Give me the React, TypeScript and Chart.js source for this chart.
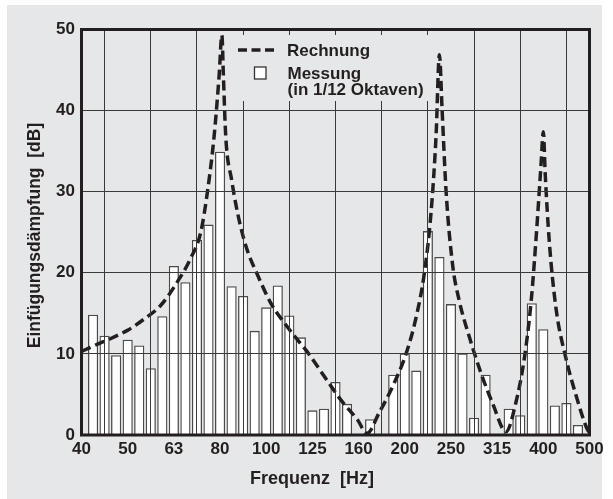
import { useEffect, useRef } from "react";
import { Chart, registerables } from "chart.js";
import type { Plugin } from "chart.js";

Chart.register(...registerables);

// x axis is counted in 1/12-octave steps from 40 Hz (step 0) to 500 Hz (step 44)
const xTickLabels = ["40", "50", "63", "80", "100", "125", "160", "200", "250", "315", "400", "500"];

// Messung (1/12 octave bands), step index and insertion loss in dB
const barSteps = [
  1, 2, 3, 4, 5, 6, 7, 8, 9, 10, 11, 12, 13, 14, 15, 16, 17, 18, 19, 20, 21, 22, 23,
  25, 27, 28, 29, 30, 31, 32, 33, 34, 35, 37, 38, 39, 40, 41, 42, 43,
];
const barValues = [
  14.8, 12.2, 9.8, 11.7, 11.0, 8.2, 14.6, 20.8, 18.8, 24.0, 25.9, 34.9, 18.3, 17.1, 12.8, 15.7, 18.4, 14.7, 12.0, 3.0, 3.2, 6.5, 3.8,
  1.9, 7.4, 10.0, 7.9, 25.1, 21.9, 16.1, 10.0, 2.1, 7.4, 3.2, 2.4, 16.2, 13.0, 3.6, 3.9, 1.2,
];

// Rechnung
const curveSteps = [
  0, 1.39, 2.54, 3.98, 5.43, 6.87, 8.31, 9.46, 10.33, 10.91, 11.49, 11.92, 12.16,
  12.29, 12.49, 13.01, 13.53, 14.26, 15.26, 16.42, 17.58, 18.73, 19.74, 21.04, 22.48, 23.92, 24.72,
  25.8, 26.95, 28.11, 28.98, 29.7, 30.28, 30.71, 31.0,
  31.23, 31.58, 32.15, 32.71, 33.59, 34.61, 35.61, 36.77,
  37.64, 38.35, 38.94, 39.37, 39.8, 40.0,
  40.17, 40.52, 41.1, 41.97, 42.83, 43.84, 44,
];
const curveValues = [
  10.3, 11.2, 11.9, 12.9, 14.3, 16.0, 18.9, 21.8, 25.0, 30.0, 36.9, 44.3, 49.3,
  44.3, 36.9, 31.4, 27.3, 23.2, 19.7, 16.2, 13.8, 11.7, 9.9, 7.2, 4.3, 1.85, 0.2,
  2.8, 6.0, 10.0, 14.5, 20.0, 27.5, 36.9, 46.9,
  40.2, 30.0, 20.9, 16.6, 12.1, 7.6, 3.9, 0.4,
  4.1, 9.4, 16.4, 24.2, 33.3, 37.4,
  32.0, 23.8, 15.6, 9.4, 4.9, 0.6, 0.3,
];

const INK = "#231f20";
const GRID = "#3a3a3a";
const PANEL = "#e6e7e8";
const FONT = "'Liberation Sans', Arial, Helvetica, sans-serif";

const panelPlugin: Plugin = {
  id: "panel",
  beforeDraw: (chart) => {
    const { ctx, width, height } = chart;
    ctx.save();
    ctx.fillStyle = "#ffffff";
    ctx.fillRect(0, 0, width, height);
    ctx.fillStyle = PANEL;
    ctx.fillRect(7, 5, 595, height - 5);
    ctx.restore();
  },
};

const overlayPlugin: Plugin = {
  id: "overlay",
  afterDraw: (chart) => {
    const { ctx, chartArea } = chart;
    ctx.save();

    // frame
    ctx.strokeStyle = INK;
    ctx.lineWidth = 3;
    ctx.strokeRect(chartArea.left, chartArea.top, chartArea.right - chartArea.left, chartArea.bottom - chartArea.top);

    // legend box
    ctx.fillStyle = PANEL;
    ctx.fillRect(233, 35, 196, 66);
    ctx.beginPath();
    ctx.setLineDash([9, 4.5]);
    ctx.lineWidth = 3.5;
    ctx.moveTo(238, 50);
    ctx.lineTo(276, 50);
    ctx.stroke();
    ctx.setLineDash([]);
    ctx.fillStyle = "#ffffff";
    ctx.fillRect(254.5, 67, 11.5, 12);
    ctx.lineWidth = 1.3;
    ctx.strokeStyle = "#333";
    ctx.strokeRect(254.5, 67, 11.5, 12);

    ctx.fillStyle = INK;
    ctx.font = `bold 17px ${FONT}`;
    ctx.textAlign = "left";
    ctx.textBaseline = "alphabetic";
    ctx.fillText("Rechnung", 287, 55.5);
    ctx.fillText("Messung", 287.5, 79);
    ctx.fillText("(in 1/12 Oktaven)", 287.5, 95);

    // axis titles
    ctx.font = `bold 18px ${FONT}`;
    ctx.textAlign = "center";
    ctx.fillText("Frequenz  [Hz]", 312, 484);
    ctx.translate(40, 235.5);
    ctx.rotate(-Math.PI / 2);
    ctx.font = `bold 17.5px ${FONT}`;
    ctx.fillText("Einfügungsdämpfung  [dB]", 0, 0);

    ctx.restore();
  },
};

const App = () => {
  const canvasRef = useRef<HTMLCanvasElement | null>(null);
  const chartRef = useRef<Chart | null>(null);

  useEffect(() => {
    if (!canvasRef.current) return;
    const ctx = canvasRef.current.getContext("2d") as CanvasRenderingContext2D;

    if (chartRef.current) chartRef.current.destroy();

    const tickFont = { family: FONT, size: 17, weight: "bold" as const };

    chartRef.current = new Chart(ctx, {
      type: "bar",
      data: {
        datasets: [
          {
            type: "line",
            label: "Rechnung",
            data: curveSteps.map((x, i) => ({ x, y: curveValues[i] })),
            borderColor: INK,
            borderWidth: 3.5,
            borderDash: [10, 5],
            pointRadius: 0,
            cubicInterpolationMode: "monotone",
            fill: false,
            order: 0,
          },
          {
            type: "bar",
            label: "Messung",
            data: barSteps.map((x, i) => ({ x, y: barValues[i] })),
            backgroundColor: "#ffffff",
            borderColor: "#4a4a4a",
            borderWidth: 1.3,
            barThickness: 9.5,
            order: 1,
          },
        ],
      },
      options: {
        animation: false,
        responsive: true,
        maintainAspectRatio: false,
        layout: { padding: { top: 29.5, right: 23.5, left: 0, bottom: 0 } },
        plugins: {
          legend: { display: false },
          tooltip: { enabled: false },
        },
        scales: {
          x: {
            type: "linear",
            min: 0,
            max: 44,
            offset: false,
            afterFit: (scale) => {
              scale.height = 64;
            },
            grid: { color: GRID, lineWidth: 1, drawTicks: false, z: 1 },
            border: { display: false },
            ticks: {
              stepSize: 4,
              padding: 4,
              color: INK,
              font: tickFont,
              maxRotation: 0,
              autoSkip: false,
              callback: (v) => xTickLabels[Number(v) / 4] ?? "",
            },
          },
          y: {
            min: 0,
            max: 50,
            afterFit: (scale) => {
              scale.width = 81.5;
            },
            grid: { color: GRID, lineWidth: 1, drawTicks: false, z: 1 },
            border: { display: false },
            ticks: {
              stepSize: 10,
              padding: 6.5,
              color: INK,
              font: tickFont,
            },
          },
        },
      },
      plugins: [panelPlugin, overlayPlugin],
    });

    return () => {
      if (chartRef.current) {
        chartRef.current.destroy();
        chartRef.current = null;
      }
    };
  }, []);

  return (
    <div style={{ position: "absolute", left: 0, top: 0, width: 613, height: 499 }}>
      <canvas ref={canvasRef} />
    </div>
  );
};

export default App;
